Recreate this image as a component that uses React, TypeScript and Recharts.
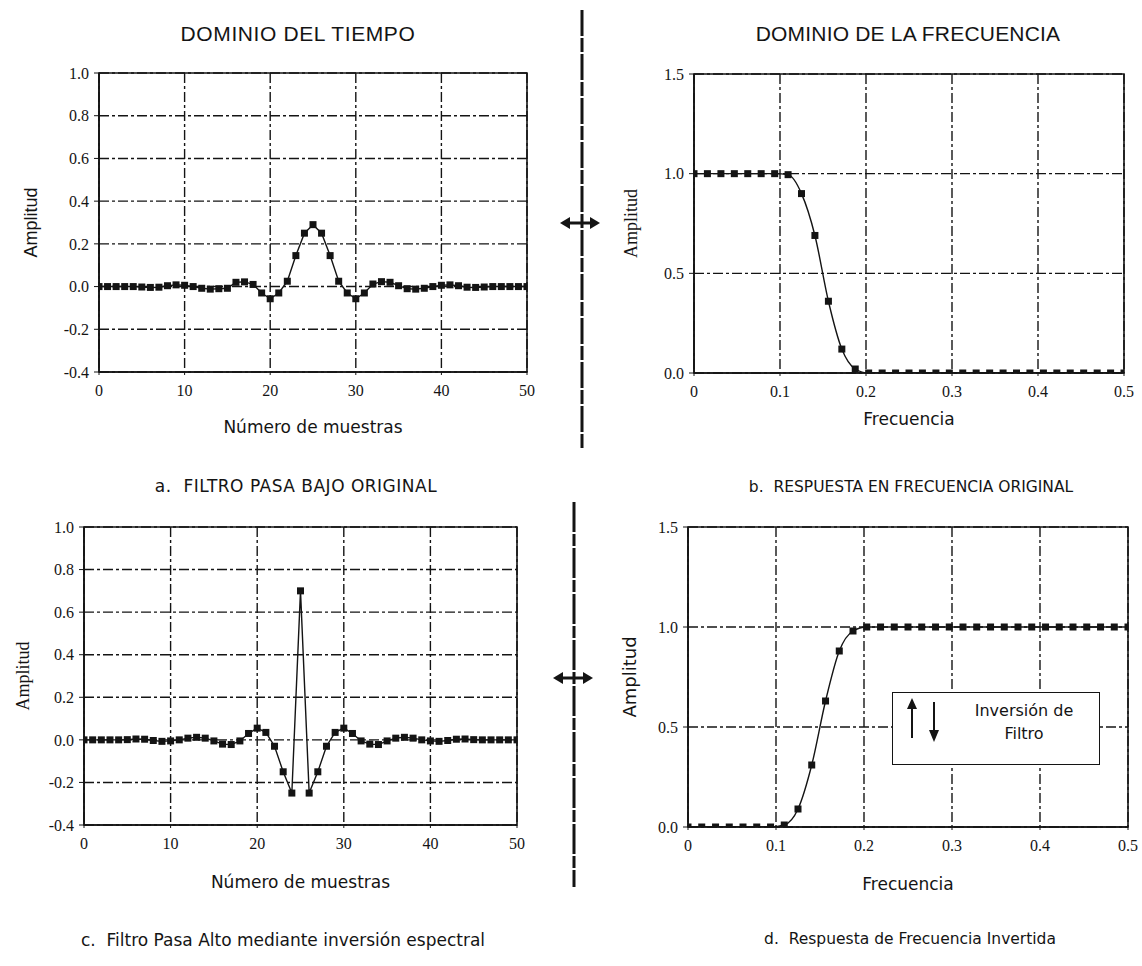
import React from 'react'
import { LineChart, Line, XAxis, YAxis, CartesianGrid, ReferenceArea } from 'recharts'

// Sample index of the 51-tap kernels
const SAMPLES = [
  0, 1, 2, 3, 4, 5, 6, 7, 8, 9, 10, 11, 12, 13, 14, 15, 16, 17, 18, 19, 20, 21, 22, 23, 24, 25,
  26, 27, 28, 29, 30, 31, 32, 33, 34, 35, 36, 37, 38, 39, 40, 41, 42, 43, 44, 45, 46, 47, 48, 49, 50,
]

// Original low-pass kernel
const LOWPASS = [
  0, 0, 0, 0, 0, -0.002, -0.004, -0.003, 0.004, 0.008, 0.006, 0, -0.008, -0.012, -0.01, -0.008,
  0.02, 0.022, 0.01, -0.03, -0.057, -0.03, 0.025, 0.145, 0.25, 0.29, 0.25, 0.145, 0.025, -0.03,
  -0.057, -0.03, 0.012, 0.023, 0.02, 0.004, -0.01, -0.012, -0.008, 0, 0.006, 0.008, 0.004, -0.003,
  -0.004, -0.002, 0, 0, 0, 0, 0,
]

// High-pass kernel after spectral inversion
const HIGHPASS = [
  0, 0, 0, 0, 0, 0.001, 0.004, 0.003, -0.003, -0.007, -0.005, 0, 0.008, 0.012, 0.008, -0.005,
  -0.02, -0.022, -0.005, 0.03, 0.055, 0.035, -0.03, -0.15, -0.25, 0.7, -0.25, -0.15, -0.03, 0.035,
  0.055, 0.03, -0.005, -0.02, -0.022, -0.005, 0.008, 0.012, 0.008, 0, -0.005, -0.007, -0.003,
  0.003, 0.004, 0.001, 0, 0, 0, 0, 0,
]

// Frequency points (fraction of the sampling rate)
const FREQS = [
  0, 0.0156, 0.0313, 0.0469, 0.0625, 0.0781, 0.0938, 0.1094, 0.125, 0.1406, 0.1563, 0.1719,
  0.1875, 0.2031, 0.2188, 0.2344, 0.25, 0.2656, 0.2813, 0.2969, 0.3125, 0.3281, 0.3438, 0.3594,
  0.375, 0.3906, 0.4063, 0.4219, 0.4375, 0.4531, 0.4688, 0.4844, 0.5,
]

const RESP_ORIGINAL = [
  1, 1, 1, 1, 1, 1, 1, 0.995, 0.9, 0.69, 0.36, 0.12, 0.02, 0, 0, 0, 0, 0, 0, 0, 0, 0, 0, 0, 0, 0,
  0, 0, 0, 0, 0, 0, 0,
]

const RESP_INVERTED = [
  0, 0, 0, 0, 0, 0, 0, 0.01, 0.09, 0.31, 0.63, 0.88, 0.98, 1, 1, 1, 1, 1, 1, 1, 1, 1, 1, 1, 1, 1,
  1, 1, 1, 1, 1, 1, 1,
]

const TIME_X_TICKS = [0, 10, 20, 30, 40, 50]
const TIME_X_LABELS = ['0', '10', '20', '30', '40', '50']
const TIME_Y_TICKS = [-0.4, -0.2, 0, 0.2, 0.4, 0.6, 0.8, 1.0]
const TIME_Y_LABELS = ['-0.4', '-0.2', '0.0', '0.2', '0.4', '0.6', '0.8', '1.0']
const FREQ_X_TICKS = [0, 0.1, 0.2, 0.3, 0.4, 0.5]
const FREQ_X_LABELS = ['0', '0.1', '0.2', '0.3', '0.4', '0.5']
const FREQ_Y_TICKS = [0, 0.5, 1.0, 1.5]
const FREQ_Y_LABELS = ['0.0', '0.5', '1.0', '1.5']

const INK = '#141414'
const SERIF = '"Liberation Serif", "Times New Roman", serif'
const SANS = '"DejaVu Sans", Verdana, sans-serif'
const HEAD = '"Liberation Sans", Arial, sans-serif'

const Y_AXIS_W = 80
const X_AXIS_H = 30

function SquareDot(props: any) {
  const { cx, cy, index } = props
  if (cx == null || cy == null) return null
  return <rect key={`sq-${index}`} x={cx - 3.5} y={cy - 3.5} width={7} height={7} fill={INK} />
}

interface PanelProps {
  left: number
  top: number
  width: number
  height: number
  plot: { x0: number; y0: number; x1: number; y1: number }
  xs: number[]
  ys: number[]
  xDomain: [number, number]
  xTicks: number[]
  xLabels: string[]
  yDomain: [number, number]
  yTicks: number[]
  yLabels: string[]
  xTitle: string
  xTitleY: number
  yTitle: string
  yTitleX: number
  yTitleFont: string
  curve: 'linear' | 'monotone'
}

function Panel(p: PanelProps) {
  const data = p.xs.map((x, i) => ({ x, y: p.ys[i] }))
  const margin = {
    top: p.plot.y0,
    right: p.width - p.plot.x1,
    left: p.plot.x0 - Y_AXIS_W,
    bottom: p.height - p.plot.y1 - X_AXIS_H,
  }
  const tickStyle = { fill: INK, fontSize: 16, fontFamily: SERIF }
  return (
    <div style={{ position: 'absolute', left: p.left, top: p.top }}>
      <LineChart width={p.width} height={p.height} data={data} margin={margin}>
        <CartesianGrid stroke={INK} strokeWidth={1.4} strokeDasharray="10 3 3 3" />
        <XAxis
          type="number"
          dataKey="x"
          domain={p.xDomain}
          ticks={p.xTicks}
          tickFormatter={(_v: number, i: number) => p.xLabels[i]}
          tick={tickStyle}
          tickSize={3}
          tickMargin={10}
          height={X_AXIS_H}
          axisLine={{ stroke: INK, strokeWidth: 1.6 }}
          tickLine={{ stroke: INK }}
          allowDataOverflow
          label={{
            value: p.xTitle,
            position: 'bottom',
            offset: p.xTitleY - 6 - (p.plot.y1 + X_AXIS_H),
            style: { fill: INK, fontSize: 17, fontFamily: SANS },
          }}
        />
        <YAxis
          type="number"
          domain={p.yDomain}
          ticks={p.yTicks}
          tickFormatter={(_v: number, i: number) => p.yLabels[i]}
          tick={tickStyle}
          tickSize={5}
          tickMargin={5}
          width={Y_AXIS_W}
          axisLine={{ stroke: INK, strokeWidth: 1.6 }}
          tickLine={{ stroke: INK }}
          allowDataOverflow
          label={{
            value: p.yTitle,
            angle: -90,
            position: 'insideLeft',
            offset: p.yTitleX - margin.left,
            style: { fill: INK, fontSize: 18, fontFamily: p.yTitleFont, textAnchor: 'middle' },
          }}
        />
        <ReferenceArea
          x1={p.xDomain[0]}
          x2={p.xDomain[1]}
          y1={p.yDomain[0]}
          y2={p.yDomain[1]}
          fill="none"
          stroke={INK}
          strokeWidth={1.6}
          ifOverflow="visible"
        />
        <Line
          type={p.curve}
          dataKey="y"
          stroke={INK}
          strokeWidth={1.4}
          dot={(props: any) => <SquareDot {...props} />}
          activeDot={false}
          isAnimationActive={false}
        />
      </LineChart>
    </div>
  )
}

function TextAt({
  x,
  y,
  size,
  font,
  spacing = 0,
  children,
}: {
  x: number
  y: number
  size: number
  font: string
  spacing?: number
  children: React.ReactNode
}) {
  return (
    <div
      style={{
        position: 'absolute',
        left: x,
        top: y,
        transform: 'translate(-50%, -50%)',
        whiteSpace: 'nowrap',
        fontFamily: font,
        fontSize: size,
        letterSpacing: spacing,
        color: INK,
        lineHeight: 1,
      }}
    >
      {children}
    </div>
  )
}

// Double-headed horizontal arrow crossing the divider
function HArrow({ cx, cy }: { cx: number; cy: number }) {
  return (
    <g fill={INK} stroke={INK}>
      <line x1={cx - 13} y1={cy} x2={cx + 13} y2={cy} strokeWidth={3} />
      <polygon points={`${cx - 20},${cy} ${cx - 10},${cy - 6} ${cx - 10},${cy + 6}`} strokeWidth={0} />
      <polygon points={`${cx + 20},${cy} ${cx + 10},${cy - 6} ${cx + 10},${cy + 6}`} strokeWidth={0} />
    </g>
  )
}

function Decorations() {
  return (
    <svg width={1142} height={966} style={{ position: 'absolute', left: 0, top: 0, pointerEvents: 'none' }}>
      <line x1={582} y1={10} x2={582} y2={450} stroke={INK} strokeWidth={3} strokeDasharray="26 2 14 2" />
      <line x1={574} y1={502} x2={574} y2={887} stroke={INK} strokeWidth={3} strokeDasharray="30 2 12 2" />
      <HArrow cx={580} cy={223} />
      <HArrow cx={573} cy={678} />
    </svg>
  )
}

function InversionKey() {
  return (
    <div
      style={{
        position: 'absolute',
        left: 892,
        top: 692,
        width: 208,
        height: 73,
        boxSizing: 'border-box',
        border: `1.6px solid ${INK}`,
        background: '#fff',
      }}
    >
      <svg width={60} height={70} style={{ position: 'absolute', left: 0, top: 0 }}>
        <line x1={19} y1={45} x2={19} y2={14} stroke={INK} strokeWidth={2} />
        <polygon points="19,5 14,16 24,16" fill={INK} />
        <line x1={41} y1={9} x2={41} y2={38} stroke={INK} strokeWidth={2} />
        <polygon points="41,49 36,37 46,37" fill={INK} />
      </svg>
      <div
        style={{
          position: 'absolute',
          left: 56,
          right: 0,
          top: 6,
          textAlign: 'center',
          fontFamily: SANS,
          fontSize: 16,
          lineHeight: '23px',
          color: INK,
        }}
      >
        Inversión de
        <br />
        Filtro
      </div>
    </div>
  )
}

export default function App() {
  return (
    <div style={{ position: 'relative', width: 1142, height: 966, background: '#fff', overflow: 'hidden' }}>
      <style>{'body { margin: 0; background: #fff; }'}</style>

      <TextAt x={298} y={33} size={21} font={HEAD} spacing={0.6}>DOMINIO DEL TIEMPO</TextAt>
      <TextAt x={908} y={33} size={21} font={HEAD} spacing={0.2}>DOMINIO DE LA FRECUENCIA</TextAt>

      <Panel
        left={0}
        top={0}
        width={560}
        height={470}
        plot={{ x0: 99, y0: 73, x1: 527, y1: 372 }}
        xs={SAMPLES}
        ys={LOWPASS}
        xDomain={[0, 50]}
        xTicks={TIME_X_TICKS}
        xLabels={TIME_X_LABELS}
        yDomain={[-0.4, 1.0]}
        yTicks={TIME_Y_TICKS}
        yLabels={TIME_Y_LABELS}
        xTitle="Número de muestras"
        xTitleY={427}
        yTitle="Amplitud"
        yTitleX={31}
        yTitleFont={HEAD}
        curve="linear"
      />
      <Panel
        left={580}
        top={0}
        width={562}
        height={470}
        plot={{ x0: 114, y0: 74, x1: 544, y1: 373 }}
        xs={FREQS}
        ys={RESP_ORIGINAL}
        xDomain={[0, 0.5]}
        xTicks={FREQ_X_TICKS}
        xLabels={FREQ_X_LABELS}
        yDomain={[0, 1.5]}
        yTicks={FREQ_Y_TICKS}
        yLabels={FREQ_Y_LABELS}
        xTitle="Frecuencia"
        xTitleY={419}
        yTitle="Amplitud"
        yTitleX={51}
        yTitleFont={SERIF}
        curve="monotone"
      />
      <Panel
        left={0}
        top={470}
        width={560}
        height={496}
        plot={{ x0: 84, y0: 57, x1: 517, y1: 355 }}
        xs={SAMPLES}
        ys={HIGHPASS}
        xDomain={[0, 50]}
        xTicks={TIME_X_TICKS}
        xLabels={TIME_X_LABELS}
        yDomain={[-0.4, 1.0]}
        yTicks={TIME_Y_TICKS}
        yLabels={TIME_Y_LABELS}
        xTitle="Número de muestras"
        xTitleY={412}
        yTitle="Amplitud"
        yTitleX={23}
        yTitleFont={SERIF}
        curve="linear"
      />
      <Panel
        left={580}
        top={470}
        width={562}
        height={496}
        plot={{ x0: 108, y0: 57, x1: 548, y1: 357 }}
        xs={FREQS}
        ys={RESP_INVERTED}
        xDomain={[0, 0.5]}
        xTicks={FREQ_X_TICKS}
        xLabels={FREQ_X_LABELS}
        yDomain={[0, 1.5]}
        yTicks={FREQ_Y_TICKS}
        yLabels={FREQ_Y_LABELS}
        xTitle="Frecuencia"
        xTitleY={414}
        yTitle="Amplitud"
        yTitleX={50}
        yTitleFont={SANS}
        curve="monotone"
      />

      <Decorations />
      <InversionKey />

      <TextAt x={296} y={486} size={17} font={SANS} spacing={0.5}>a.&nbsp; FILTRO PASA BAJO ORIGINAL</TextAt>
      <TextAt x={911} y={488} size={15.5} font={SANS}>b.&nbsp; RESPUESTA EN FRECUENCIA ORIGINAL</TextAt>
      <TextAt x={283} y={940} size={17} font={SANS}>c.&nbsp; Filtro Pasa Alto mediante inversión espectral</TextAt>
      <TextAt x={910} y={940} size={15.5} font={SANS}>d.&nbsp; Respuesta de Frecuencia Invertida</TextAt>
    </div>
  )
}
